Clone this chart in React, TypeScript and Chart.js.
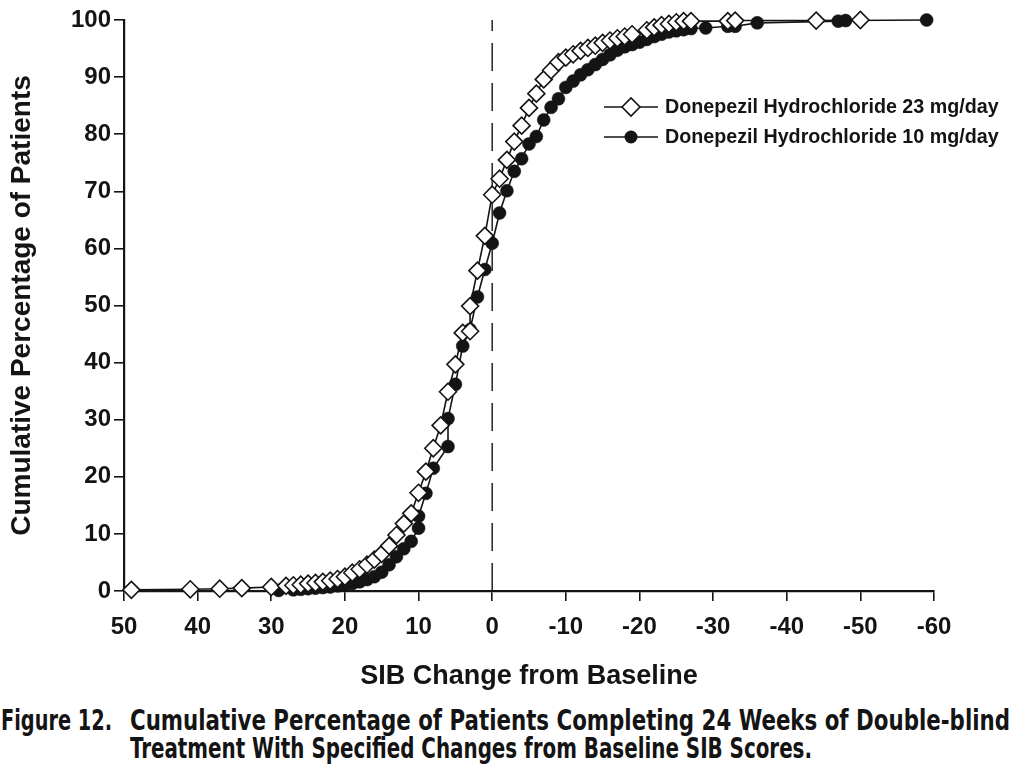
import React, { useEffect, useLayoutEffect, useRef } from "react";
import { Chart, registerables } from "chart.js";

Chart.register(...registerables);

// ---------- data ----------
const seriesLabels = [
  "Donepezil Hydrochloride 23 mg/day",
  "Donepezil Hydrochloride 10 mg/day",
];

// Donepezil 23 mg/day (open diamonds)
const change23 = [
  49, 41, 37, 34, 30, 28, 27, 26, 25, 24, 23, 22, 21, 20, 19, 18, 17, 16, 15, 14,
  13, 12, 11, 10, 9, 8, 7, 6, 5, 4, 3, 3, 2, 1, 0, -1, -2, -3, -4, -5, -6, -7, -8,
  -9, -10, -11, -12, -13, -14, -15, -16, -17, -18, -19, -21, -22, -23, -24, -25,
  -26, -27, -32, -33, -44, -50,
];
const pct23 = [
  0.2, 0.3, 0.4, 0.5, 0.7, 0.9, 1.0, 1.1, 1.3, 1.4, 1.6, 1.8, 2.1, 2.5, 3.2, 3.8,
  4.6, 5.5, 6.5, 7.9, 9.8, 11.8, 13.6, 17.2, 20.9, 25.0, 29.0, 34.9, 39.7, 45.2,
  45.5, 49.9, 56.1, 62.2, 69.4, 72.2, 75.5, 78.7, 81.5, 84.6, 87.1, 89.6, 91.2,
  92.6, 93.4, 94.0, 94.6, 95.1, 95.5, 96.0, 96.4, 96.8, 97.1, 97.5, 98.2, 98.7,
  99.1, 99.3, 99.6, 99.8, 99.8, 99.8, 99.9, 99.9, 100,
];

// Donepezil 10 mg/day (filled circles)
const change10 = [
  29, 27, 26, 25, 24, 23, 22, 21, 20, 19, 18, 17, 16, 15, 14, 13, 12, 11, 10, 10,
  9, 8, 6, 6, 5, 4, 3, 2, 1, 0, -1, -2, -3, -4, -5, -6, -7, -8, -9, -10, -11, -12,
  -13, -14, -15, -16, -17, -18, -19, -20, -21, -22, -23, -24, -25, -26, -27, -29,
  -32, -33, -36, -47, -48, -59,
];
const pct10 = [
  0.1, 0.2, 0.3, 0.4, 0.5, 0.6, 0.7, 0.9, 1.1, 1.3, 1.6, 2.0, 2.5, 3.3, 4.6, 6.0,
  7.4, 8.7, 11.0, 13.1, 17.1, 21.5, 25.3, 30.2, 36.2, 42.9, 45.8, 51.5, 56.3,
  60.9, 66.2, 70.1, 73.5, 75.7, 78.3, 79.6, 82.5, 84.7, 86.2, 88.2, 89.3, 90.4,
  91.3, 92.2, 93.1, 93.9, 94.7, 95.3, 95.7, 96.1, 96.6, 97.1, 97.5, 97.9, 98.1,
  98.3, 98.5, 98.6, 98.9, 98.9, 99.5, 99.8, 99.9, 100,
];

const referenceX = [0, 0];
const referenceY = [0, 100];

const xTicks = [50, 40, 30, 20, 10, 0, -10, -20, -30, -40, -50, -60];
const yTicks = [0, 10, 20, 30, 40, 50, 60, 70, 80, 90, 100];

const xTitle = "SIB Change from Baseline";
const yTitle = "Cumulative Percentage of Patients";
const captionLead = "Figure 12.";
const captionLines = [
  "Cumulative Percentage of Patients Completing 24 Weeks of Double-blind",
  "Treatment With Specified Changes from Baseline SIB Scores.",
];

// ---------- styling ----------
const INK = "#141414";
const FONT = '"Liberation Sans", Arial, Helvetica, sans-serif';
const NARROW = '"Liberation Sans Narrow", "Arial Narrow", "DejaVu Sans Condensed", "Liberation Sans", sans-serif';

const zip = (xs: number[], ys: number[]) => xs.map((x, i) => ({ x, y: ys[i] }));

export default function App() {
  const canvasRef = useRef<HTMLCanvasElement>(null);
  const leadRef = useRef<HTMLSpanElement>(null);
  const l1Ref = useRef<HTMLSpanElement>(null);
  const l2Ref = useRef<HTMLSpanElement>(null);

  useLayoutEffect(() => {
    document.body.style.margin = "0";
    const fit = (el: HTMLSpanElement | null, w: number) => {
      if (!el) return;
      el.style.transform = "none";
      const cur = el.getBoundingClientRect().width;
      if (cur > 0) el.style.transform = `scaleX(${w / cur})`;
    };
    fit(leadRef.current, 111);
    fit(l1Ref.current, 880);
    fit(l2Ref.current, 682);
  }, []);

  useEffect(() => {
    const canvas = canvasRef.current;
    if (!canvas) return;

    const legendPlugin = {
      id: "inlineLegend",
      afterDraw(chart: any) {
        const ctx = chart.ctx as CanvasRenderingContext2D;
        const rows = [
          { label: seriesLabels[0], y: 107, kind: "diamond" },
          { label: seriesLabels[1], y: 137, kind: "circle" },
        ];
        ctx.save();
        rows.forEach((r) => {
          ctx.strokeStyle = INK;
          ctx.lineWidth = 1.6;
          ctx.beginPath();
          ctx.moveTo(604, r.y);
          ctx.lineTo(658, r.y);
          ctx.stroke();
          const cx = 631;
          if (r.kind === "diamond") {
            const s = 9;
            ctx.beginPath();
            ctx.moveTo(cx - s, r.y);
            ctx.lineTo(cx, r.y - s);
            ctx.lineTo(cx + s, r.y);
            ctx.lineTo(cx, r.y + s);
            ctx.closePath();
            ctx.fillStyle = "#fff";
            ctx.fill();
            ctx.lineWidth = 1.6;
            ctx.stroke();
          } else {
            ctx.beginPath();
            ctx.arc(cx, r.y, 6.5, 0, Math.PI * 2);
            ctx.fillStyle = INK;
            ctx.fill();
          }
          ctx.fillStyle = INK;
          ctx.font = `bold 19.7px ${FONT}`;
          ctx.textBaseline = "middle";
          ctx.textAlign = "left";
          ctx.fillText(r.label, 665, r.y + 1);
        });
        ctx.restore();
      },
    };

    const chart = new Chart(canvas, {
      type: "scatter",
      data: {
        datasets: [
          {
            label: seriesLabels[0],
            data: zip(change23, pct23),
            showLine: true,
            borderColor: INK,
            borderWidth: 1.6,
            pointStyle: "rectRot",
            pointRadius: 8.5,
            pointBackgroundColor: "#fff",
            pointBorderColor: INK,
            pointBorderWidth: 1.6,
            order: 0,
            clip: false,
          } as any,
          {
            label: seriesLabels[1],
            data: zip(change10, pct10),
            showLine: true,
            borderColor: INK,
            borderWidth: 1.6,
            pointStyle: "circle",
            pointRadius: 6.5,
            pointBackgroundColor: INK,
            pointBorderColor: INK,
            pointBorderWidth: 0.5,
            order: 1,
            clip: false,
          } as any,
          {
            label: "reference",
            data: zip(referenceX, referenceY),
            showLine: true,
            borderColor: INK,
            borderWidth: 1.4,
            borderDash: [28, 12],
            pointRadius: 0,
            order: 2,
          } as any,
        ],
      },
      options: {
        responsive: false,
        animation: false,
        events: [],
        layout: { padding: { top: 20, right: 82, bottom: 0, left: 0 } },
        plugins: {
          legend: { display: false },
          tooltip: { enabled: false },
        },
        scales: {
          x: {
            type: "linear",
            min: -60,
            max: 50,
            reverse: true,
            afterBuildTicks: (s: any) => {
              s.ticks = xTicks.map((v) => ({ value: v }));
            },
            afterFit: (s: any) => {
              s.height = 109;
            },
            ticks: {
              autoSkip: false,
              maxRotation: 0,
              padding: 12,
              color: INK,
              font: { family: FONT, size: 24, weight: "bold" },
              callback: (v: any) => String(v),
            },
            grid: {
              drawOnChartArea: false,
              drawTicks: true,
              tickLength: 10,
              color: INK,
              lineWidth: 1.6,
            },
            border: { display: true, color: INK, width: 2.2 },
            title: {
              display: true,
              text: xTitle,
              color: INK,
              font: { family: FONT, size: 27, weight: "bold" },
              padding: { top: 0, bottom: 7 },
            },
          },
          y: {
            type: "linear",
            min: 0,
            max: 100,
            afterBuildTicks: (s: any) => {
              s.ticks = yTicks.map((v) => ({ value: v }));
            },
            afterFit: (s: any) => {
              s.width = 124;
            },
            ticks: {
              autoSkip: false,
              padding: 3,
              color: INK,
              font: { family: FONT, size: 24, weight: "bold" },
              callback: (v: any) => String(v),
            },
            grid: {
              drawOnChartArea: false,
              drawTicks: true,
              tickLength: 10,
              color: INK,
              lineWidth: 1.6,
            },
            border: { display: true, color: INK, width: 2.2 },
            title: {
              display: true,
              text: yTitle,
              color: INK,
              font: { family: FONT, size: 28, weight: "bold" },
              padding: { top: 5, bottom: 0 },
            },
          },
        },
      } as any,
      plugins: [legendPlugin],
    });

    return () => chart.destroy();
  }, []);

  const capStyle: React.CSSProperties = {
    position: "absolute",
    fontFamily: NARROW,
    fontWeight: "bold",
    fontSize: 28,
    lineHeight: "28px",
    color: INK,
    whiteSpace: "nowrap",
  };
  const spanStyle: React.CSSProperties = {
    display: "inline-block",
    transformOrigin: "left center",
  };

  return (
    <div style={{ position: "relative", width: 1016, height: 772, background: "#fff", overflow: "hidden" }}>
      <canvas
        ref={canvasRef}
        width={1016}
        height={700}
        style={{ position: "absolute", left: 0, top: 0, width: 1016, height: 700 }}
      />
      <div style={{ ...capStyle, left: 1, top: 707 }}>
        <span ref={leadRef} style={spanStyle}>{captionLead}</span>
      </div>
      <div style={{ ...capStyle, left: 130, top: 707 }}>
        <span ref={l1Ref} style={spanStyle}>{captionLines[0]}</span>
      </div>
      <div style={{ ...capStyle, left: 130, top: 735 }}>
        <span ref={l2Ref} style={spanStyle}>{captionLines[1]}</span>
      </div>
    </div>
  );
}
